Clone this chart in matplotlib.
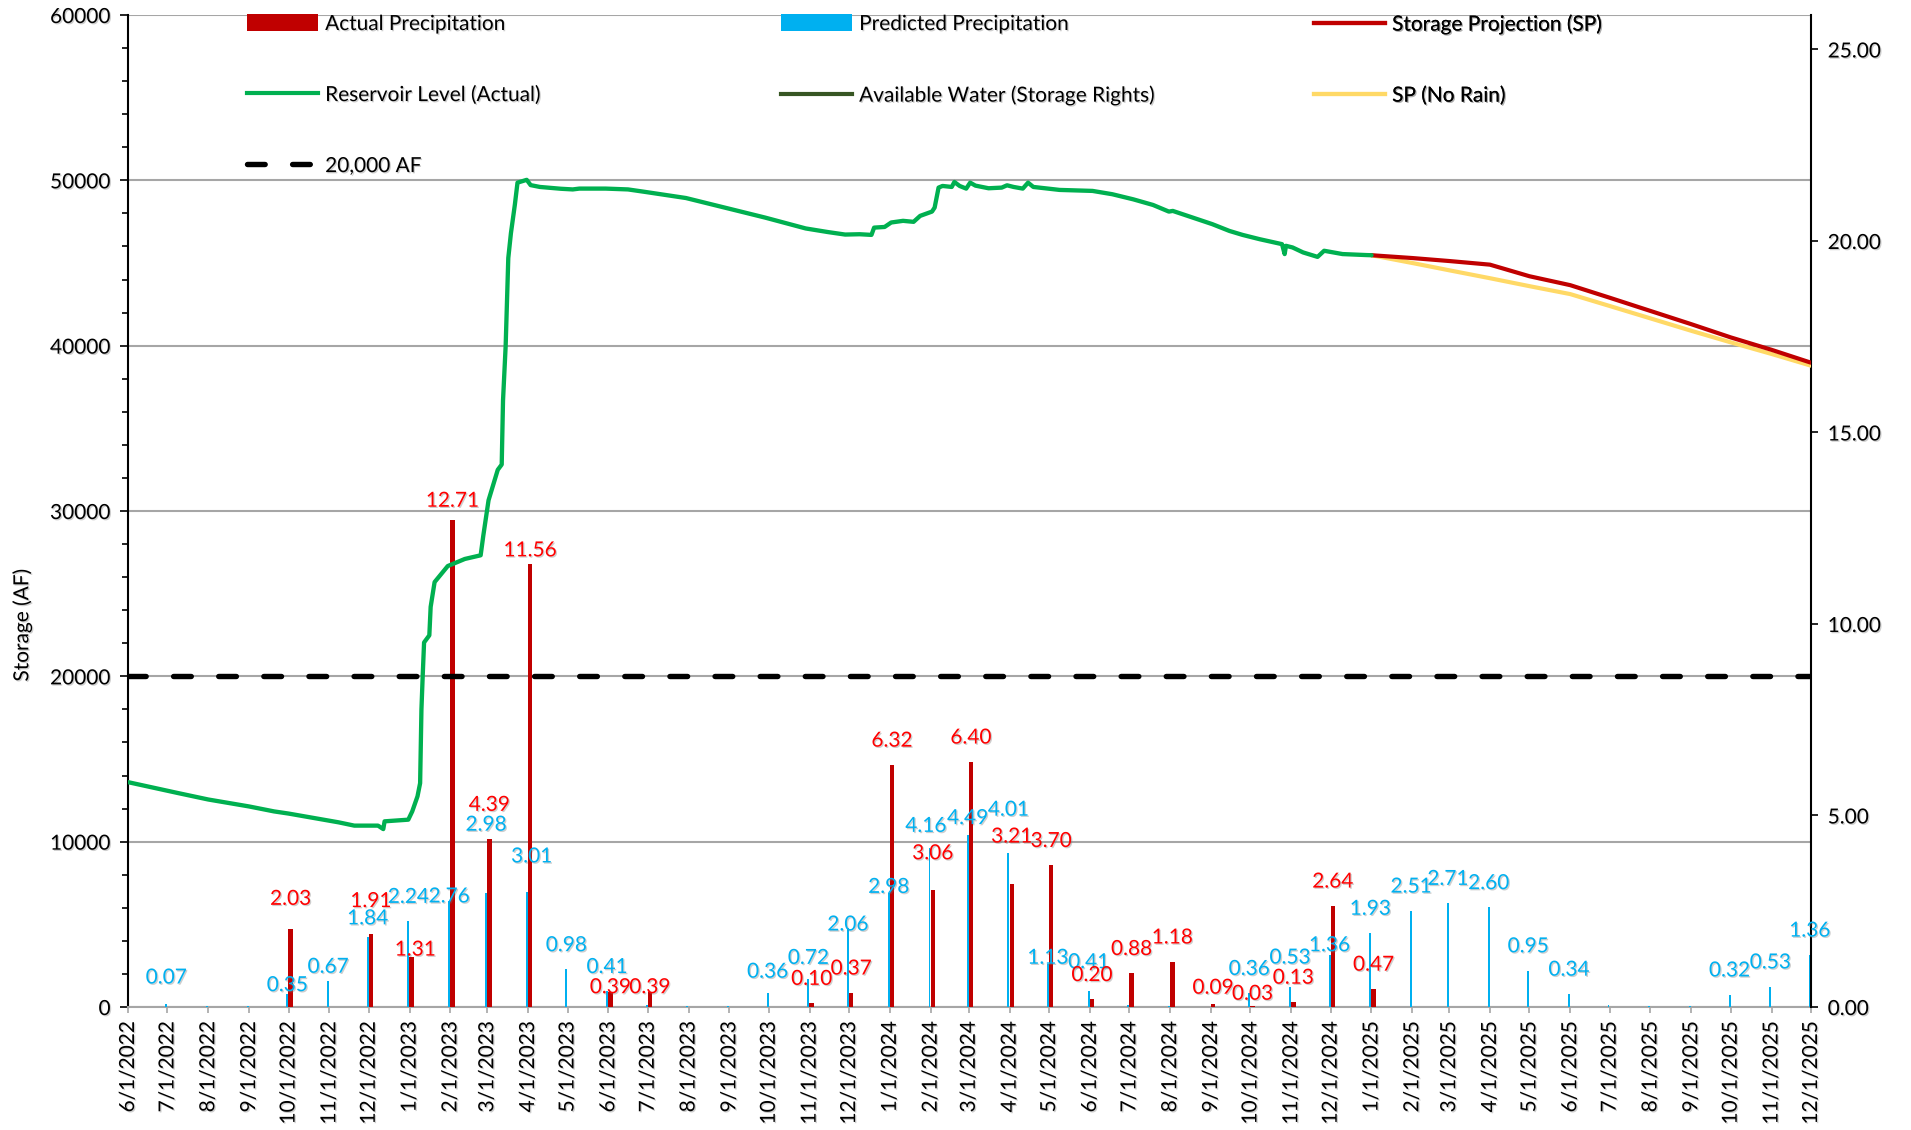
import numpy as np
import pandas as pd
import matplotlib
matplotlib.use("Agg")
import matplotlib.pyplot as plt
import matplotlib.dates as mdates
import matplotlib.patheffects as pe
from matplotlib.lines import Line2D
from matplotlib.patches import Patch
from matplotlib.ticker import FixedLocator, MultipleLocator, FuncFormatter

plt.rcParams['font.family'] = ['Lato', 'DejaVu Sans']

# ---------------- DATA ----------------
months = pd.date_range('2022-06-01', '2025-12-01', freq='MS')
month_labels = [f"{d.month}/{d.day}/{d.year}" for d in months]

nan = np.nan
# monthly precipitation (inches), 6/2022 .. 12/2025
actual_precip = [nan, nan, nan, nan, 2.03, nan, 1.91, 1.31, 12.71, 4.39, 11.56, nan,
                 0.39, 0.39, nan, nan, nan, 0.10, 0.37, 6.32, 3.06, 6.40, 3.21, 3.70,
                 0.20, 0.88, 1.18, 0.09, 0.03, 0.13, 2.64, 0.47, nan, nan, nan, nan,
                 nan, nan, nan, nan, nan, nan, nan]
predicted_precip = [nan, 0.07, 0.03, 0.02, 0.35, 0.67, 1.84, 2.24, 2.76, 2.98, 3.01, 0.98,
                    0.41, 0.04, 0.03, 0.03, 0.36, 0.72, 2.06, 2.98, 4.16, 4.49, 4.01, 1.13,
                    0.41, 0.04, 0.03, nan, 0.36, 0.53, 1.36, 1.93, 2.51, 2.71, 2.60, 0.95,
                    0.34, 0.04, 0.02, 0.02, 0.32, 0.53, 1.36]

reservoir_dates = [
    '2022-06-01', '2022-07-09', '2022-08-01', '2022-09-01', '2022-09-20', '2022-10-01',
    '2022-11-08', '2022-11-20', '2022-12-08', '2022-12-12', '2022-12-13', '2022-12-31',
    '2023-01-03', '2023-01-07', '2023-01-09', '2023-01-10', '2023-01-11', '2023-01-12',
    '2023-01-16', '2023-01-17', '2023-01-20', '2023-01-30', '2023-02-12', '2023-02-24',
    '2023-02-26', '2023-03-02', '2023-03-09', '2023-03-12', '2023-03-13', '2023-03-15',
    '2023-03-17', '2023-03-19', '2023-03-22', '2023-03-24', '2023-03-31', '2023-04-03',
    '2023-04-10', '2023-04-26', '2023-05-05', '2023-05-10', '2023-05-30', '2023-06-16',
    '2023-06-29', '2023-07-30', '2023-08-29', '2023-09-28', '2023-10-29', '2023-11-15',
    '2023-11-28', '2023-12-09', '2023-12-18', '2023-12-20', '2023-12-28', '2024-01-02',
    '2024-01-11', '2024-01-19', '2024-01-24', '2024-02-02', '2024-02-04', '2024-02-07',
    '2024-02-10', '2024-02-17', '2024-02-19', '2024-02-23', '2024-02-28', '2024-03-02',
    '2024-03-06', '2024-03-16', '2024-03-26', '2024-03-30', '2024-04-04', '2024-04-11',
    '2024-04-15', '2024-04-19', '2024-05-09', '2024-06-03', '2024-06-18', '2024-07-04',
    '2024-07-19', '2024-07-31', '2024-08-03', '2024-08-18', '2024-09-02', '2024-09-15',
    '2024-09-25', '2024-10-08', '2024-10-25', '2024-10-27', '2024-10-28', '2024-11-02',
    '2024-11-10', '2024-11-21', '2024-11-26', '2024-12-10', '2024-12-28', '2025-01-01']
reservoir_level = [
    13600, 12940, 12550, 12130, 11830, 11700,
    11170, 10970, 10970, 10760, 11230, 11330,
    11830, 12740, 13540, 18000, 20110, 22050,
    22480, 24200, 25700, 26670, 27100, 27320,
    28500, 30650, 32490, 32810, 36690, 39980,
    45300, 46800, 48530, 49860, 50030, 49710,
    49600, 49490, 49450, 49500, 49500, 49450,
    49300, 48930, 48340, 47750, 47090, 46870,
    46720, 46740, 46700, 47140, 47180, 47450,
    47550, 47490, 47850, 48110, 48350, 49560,
    49660, 49600, 49900, 49660, 49500, 49860,
    49680, 49520, 49560, 49700, 49600, 49500,
    49860, 49600, 49420, 49360, 49160, 48850,
    48510, 48110, 48150, 47750, 47350, 46940,
    46700, 46440, 46140, 45540, 46040, 45940,
    45640, 45370, 45740, 45540, 45480, 45470]

projection_dates = pd.date_range('2025-01-01', '2025-12-01', freq='MS')
storage_projection = [45470, 45300, 45120, 44900, 44200, 43660,
                      42900, 42100, 41300, 40500, 39750, 38970]
sp_no_rain = [45470, 45000, 44560, 44080, 43600, 43120,
              42400, 41650, 40900, 40200, 39500, 38790]
available_water = []          # series present in legend only
threshold_af = 20000

# ---------------- STYLE / LAYOUT ----------------
C_ACT = '#C00000'
C_PRED = '#00B0F0'
C_ACT_LBL = '#FF0000'
C_GREEN = '#00B050'
C_DKGREEN = '#375623'
C_YELLOW = '#FFD966'
C_GRID = '#A6A6A6'
FS = 15
LBL_FS = 15
LBL_DY = 17.5   # default label centre above bar top (points)
# manual data-label nudges (dx, dy in points), as placed in the original workbook
label_nudge = {
    ('act', 4): (0, 4.4), ('act', 6): (0, 6.1), ('act', 7): (2.6, -12.3),
    ('act', 8): (0, -3.5), ('act', 9): (0, 7.0), ('act', 10): (0, -7.5),
    ('act', 12): (0, -14.0), ('act', 13): (0, -14.0), ('act', 20): (0, 8.8),
    ('act', 22): (0, 16.7), ('act', 27): (0, -6.1), ('act', 28): (0, -8.8),
    ('pred', 1): (0, 1.8), ('pred', 4): (0, -11.4), ('pred', 5): (0, -7.0),
    ('pred', 6): (0, -4.4), ('pred', 8): (0, -14.0), ('pred', 9): (0, 31.6),
    ('pred', 10): (3.5, 7.9), ('pred', 16): (0, -2.0), ('pred', 17): (0, -2.0),
    ('pred', 18): (0, -14.9), ('pred', 19): (0, -13.2), ('pred', 20): (-2.6, -1.8),
    ('pred', 21): (0, -5.3), ('pred', 22): (0, 14.0), ('pred', 23): (0, -13.2),
    ('pred', 24): (0, 3.5), ('pred', 29): (0, 3.5), ('pred', 30): (0, -10.5),
}
shadow = [pe.SimplePatchShadow(offset=(0.9, -0.9), shadow_rgbFace='0.45', alpha=0.35), pe.Normal()]

W, H = 1911, 1130
fig = plt.figure(figsize=(W / 100, H / 100), dpi=100)
L, R, T, B = 128, 1811, 15, 1007
ax = fig.add_axes([L / W, 1 - B / H, (R - L) / W, (B - T) / H])
ax2 = ax.twinx()
ax3 = ax.twinx()
ax.set_zorder(0)
ax2.set_zorder(1)
ax3.set_zorder(2)
ax2.patch.set_visible(False)
ax3.patch.set_visible(False)

xm = mdates.date2num(months)
ax.set_xlim(xm[0], xm[-1])
ax.set_ylim(0, 60000)
ax2.set_ylim(0, 25.9)
ax3.set_ylim(0, 60000)

# grid
ax.set_yticks(np.arange(0, 60001, 10000))
ax.yaxis.set_minor_locator(MultipleLocator(2000))
ax.grid(axis='y', which='major', color=C_GRID, lw=1.5)
ax.set_axisbelow(True)

# spines
for s in ['top', 'right']:
    ax.spines[s].set_visible(False)
ax.spines['left'].set_color('black')
ax.spines['left'].set_linewidth(1.5)
ax.spines['bottom'].set_color(C_GRID)
ax.spines['bottom'].set_linewidth(1.5)
for s in ['top', 'left', 'bottom']:
    ax2.spines[s].set_visible(False)
ax2.spines['right'].set_color('black')
ax2.spines['right'].set_linewidth(1.5)
ax3.set_axis_off()

# ticks
ax.tick_params(axis='y', which='major', direction='out', length=5.5, width=1.2,
               color='black', labelsize=FS, pad=7)
ax.tick_params(axis='y', which='minor', direction='out', length=4, width=1.2, color='black')
ax.xaxis.set_major_locator(FixedLocator(xm))
ax.set_xticklabels(month_labels, rotation=90, fontsize=FS)
ax.tick_params(axis='x', direction='out', length=4, width=1.2, color=C_GRID, pad=6)
ax2.set_yticks(np.arange(0, 25.01, 5))
ax2.yaxis.set_major_formatter(FuncFormatter(lambda v, p: f"{v:.2f}"))
ax2.tick_params(axis='y', direction='out', length=5, width=1.2, color='black',
                labelsize=FS, pad=7)
for t in ax.get_xticklabels() + ax.get_yticklabels() + ax2.get_yticklabels():
    t.set_path_effects(shadow)

# bars
act = np.array(actual_precip, dtype=float)
pred = np.array(predicted_precip, dtype=float)
PRED_OFF, ACT_OFF = -0.9, 1.6
ax2.bar(xm + PRED_OFF, pred, width=1.5, color=C_PRED, zorder=2)
ax2.bar(xm + ACT_OFF, act, width=3.4, color=C_ACT, zorder=3)


def add_labels(vals, off, color, key, min_val):
    for i, (x, v) in enumerate(zip(xm, vals)):
        if np.isfinite(v) and v >= min_val:
            dx, dy = label_nudge.get((key, i), (0, 0))
            ax2.annotate(f"{v:.2f}", xy=(x + off, v), xytext=(dx, LBL_DY + dy),
                         textcoords='offset points', ha='center', va='center',
                         color=color, fontsize=LBL_FS, path_effects=shadow, zorder=5)


add_labels(pred, PRED_OFF, C_PRED, 'pred', 0.05)
add_labels(act, ACT_OFF, C_ACT_LBL, 'act', 0.0)

# lines
rd = mdates.date2num(pd.to_datetime(reservoir_dates))
pdn = mdates.date2num(projection_dates)
ax3.plot(pdn, sp_no_rain, color=C_YELLOW, lw=3.0, solid_capstyle='round', zorder=3)
ax3.plot(pdn, storage_projection, color=C_ACT, lw=3.0, solid_capstyle='round', zorder=4)
ax3.plot(rd, reservoir_level, color=C_GREEN, lw=3.1, solid_joinstyle='round',
         solid_capstyle='round', zorder=5)
ax3.plot(mdates.date2num(pd.to_datetime(available_water)) if available_water else [],
         available_water, color=C_DKGREEN, lw=3.0)
ax3.plot([xm[0], xm[-1]], [threshold_af, threshold_af], color='black', lw=3.9,
         dashes=(3.26, 5.07), dash_capstyle='round', zorder=6)

# y label
fig.text(22 / W, 1 - 625 / H, 'Storage (AF)', rotation=90, ha='center', va='center',
         fontsize=FS, path_effects=shadow)

# legends (3 columns, Excel-style fixed column spacing)
h_act = Patch(facecolor=C_ACT, edgecolor='none')
h_pred = Patch(facecolor=C_PRED, edgecolor='none')
h_sp = Line2D([], [], color=C_ACT, lw=3.0)
h_res = Line2D([], [], color=C_GREEN, lw=3.0)
h_aw = Line2D([], [], color=C_DKGREEN, lw=3.0)
h_nr = Line2D([], [], color=C_YELLOW, lw=3.0)
h_thr = Line2D([], [], color='black', lw=3.9, dashes=(3.26, 5.07), dash_capstyle='round')
cols = [
    (247, [h_act, h_res, h_thr], ['Actual Precipitation', 'Reservoir Level (Actual)', '20,000 AF']),
    (781, [h_pred, h_aw], ['Predicted Precipitation', 'Available Water (Storage Rights)']),
    (1314, [h_sp, h_nr], ['Storage Projection (SP)', 'SP (No Rain)']),
]
for xpx, hs, ls in cols:
    leg = ax3.legend(hs, ls, loc='upper left', bbox_to_anchor=(xpx / W, 1 - 14 / H),
                     bbox_transform=fig.transFigure, frameon=False, fontsize=FS,
                     borderpad=0, borderaxespad=0, handlelength=3.4, handleheight=0.85,
                     handletextpad=0.35, labelspacing=2.45)
    for t in leg.get_texts():
        t.set_path_effects(shadow)
    ax3.add_artist(leg)

fig.savefig('out.png', dpi=100, facecolor='white')
